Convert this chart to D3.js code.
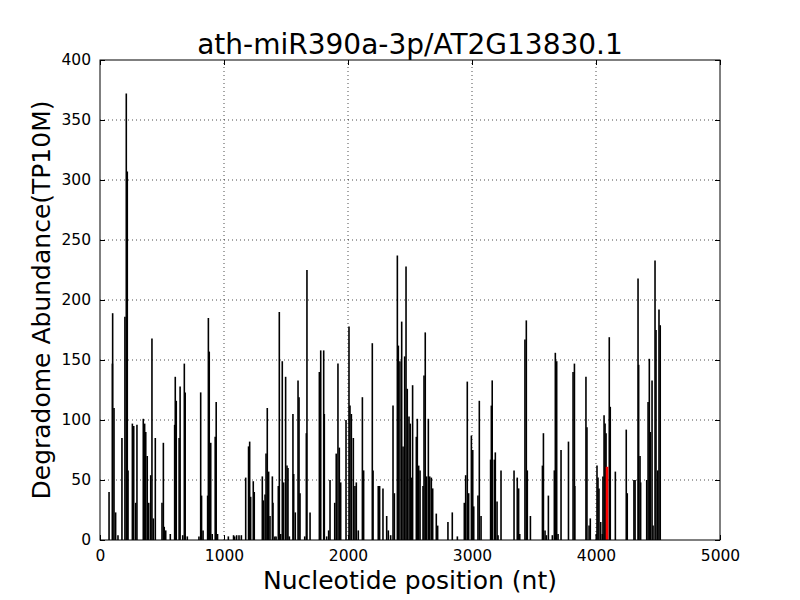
<!DOCTYPE html>
<html>
<head>
<meta charset="utf-8">
<script src="https://cdn.jsdelivr.net/npm/d3@7"></script>
<style>
  body { margin: 0; background: #fff; }
  text { font-family: "DejaVu Sans", sans-serif; fill: #000; }
</style>
</head>
<body>
<svg id="chart" width="800" height="600"></svg>
<script>
const title = "ath-miR390a-3p/AT2G13830.1";
const xLabel = "Nucleotide position (nt)";
const yLabel = "Degradome Abundance(TP10M)";
const xTicks = [0, 1000, 2000, 3000, 4000, 5000];
const yTicks = [0, 50, 100, 150, 200, 250, 300, 350, 400];

// Positions (nt) and abundances (TP10M) of degradome reads
const positions = [73,100,102,113,126,145,177,201,212,220,226,261,272,288,298,349,360,369,381,393,409,419,430,446,500,511,518,530,567,602,607,615,638,646,667,680,687,704,798,812,819,831,868,874,881,893,905,929,937,948,1035,1077,1086,1102,1121,1140,1175,1198,1207,1215,1236,1244,1309,1317,1331,1339,1349,1360,1371,1390,1395,1410,1420,1438,1446,1457,1470,1481,1497,1508,1516,1527,1556,1562,1575,1597,1605,1613,1651,1664,1669,1694,1769,1780,1804,1809,1828,1844,1855,1893,1905,1919,1930,1941,1984,2008,2016,2027,2043,2056,2067,2083,2116,2126,2196,2202,2244,2255,2282,2312,2325,2344,2363,2374,2398,2406,2419,2433,2444,2457,2468,2478,2492,2502,2512,2521,2551,2559,2570,2581,2605,2613,2623,2634,2648,2659,2672,2683,2712,2723,2806,2841,2882,2938,2949,2962,2973,2995,3006,3014,3048,3059,3073,3150,3156,3163,3180,3188,3202,3210,3234,3339,3365,3376,3385,3427,3438,3446,3471,3568,3576,3589,3600,3616,3648,3664,3672,3683,3694,3718,3778,3815,3826,3829,3919,3927,3944,3954,4002,4008,4016,4024,4038,4051,4056,4065,4073,4081,4107,4115,4156,4244,4252,4306,4315,4339,4344,4355,4360,4409,4420,4430,4438,4452,4460,4476,4484,4498,4508,4518];
const abundances = [40,147,189,110,23,4,85,186,372,307,58,97,95,31,96,101,97,90,70,31,54,168,18,85,31,81,11,8,5,96,136,116,85,128,4,147,123,3,3,123,37,8,37,185,157,81,5,86,115,5,3,4,3,4,4,4,52,78,82,36,49,40,53,33,38,72,110,57,20,53,31,3,3,45,190,5,149,48,136,62,60,3,105,55,23,133,119,39,3,89,225,23,140,158,158,105,3,8,50,31,72,147,77,48,100,178,112,105,85,45,48,8,119,58,164,58,45,45,43,20,8,4,112,39,237,162,149,182,78,153,228,126,103,97,52,129,86,101,62,58,45,137,173,53,101,53,52,43,22,12,15,23,3,31,54,132,39,87,75,28,37,116,20,67,112,133,67,73,32,4,58,58,52,43,5,167,183,58,20,62,89,8,4,37,4,58,156,149,5,75,82,140,147,45,136,94,12,18,5,62,52,43,15,5,53,104,97,89,169,111,57,92,39,50,50,218,146,70,48,50,115,151,90,133,12,233,175,58,192,179];

// Cleavage site (highlighted in red)
const sitePositions = [4089];
const siteAbundances = [61];

const svg = d3.select("#chart");
const margin = { left: 100, right: 80, top: 60, bottom: 60 };
const W = 800, H = 600;
const x = d3.scaleLinear().domain([0, 5000]).range([margin.left, W - margin.right]);
const y = d3.scaleLinear().domain([0, 400]).range([H - margin.bottom, margin.top]);

// grid
const grid = svg.append("g");
grid.selectAll("line.gx").data(xTicks.slice(1, -1)).join("line")
  .attr("x1", d => x(d)).attr("x2", d => x(d))
  .attr("y1", y(0)).attr("y2", y(400))
  .attr("stroke", "#000").attr("stroke-width", 0.7).attr("stroke-dasharray", "1,3");
grid.selectAll("line.gy").data(yTicks.slice(1, -1)).join("line")
  .attr("x1", x(0)).attr("x2", x(5000))
  .attr("y1", d => y(d)).attr("y2", d => y(d))
  .attr("stroke", "#000").attr("stroke-width", 0.7).attr("stroke-dasharray", "1,3");

// black stems
const data = positions.map((p, i) => ({ p, v: abundances[i] }));
svg.append("g").selectAll("line").data(data).join("line")
  .attr("x1", d => x(d.p)).attr("x2", d => x(d.p))
  .attr("y1", y(0)).attr("y2", d => y(d.v))
  .attr("stroke", "#000").attr("stroke-width", 1.6);

// red site
const site = sitePositions.map((p, i) => ({ p, v: siteAbundances[i] }));
svg.append("g").selectAll("line").data(site).join("line")
  .attr("x1", d => x(d.p)).attr("x2", d => x(d.p))
  .attr("y1", y(0)).attr("y2", d => y(d.v))
  .attr("stroke", "#ff0000").attr("stroke-width", 2.6);

// axes (ticks inward, both sides)
const fmt = d3.format("d");
const axB = d3.axisBottom(x).tickValues(xTicks).tickSizeInner(-5).tickSizeOuter(0).tickPadding(10).tickFormat(fmt);
const axT = d3.axisTop(x).tickValues(xTicks).tickSizeInner(-5).tickSizeOuter(0).tickFormat("");
const axL = d3.axisLeft(y).tickValues(yTicks).tickSizeInner(-5).tickSizeOuter(0).tickPadding(9).tickFormat(fmt);
const axR = d3.axisRight(y).tickValues(yTicks).tickSizeInner(-5).tickSizeOuter(0).tickFormat("");

function styleAxis(g) {
  g.select(".domain").remove();
  g.selectAll(".tick line").attr("stroke", "#000");
  g.selectAll("text").style("font-family", "DejaVu Sans").style("font-size", "15.5px").attr("fill", "#000");
}
svg.append("g").attr("transform", `translate(0,${y(0)})`).call(axB).call(styleAxis);
svg.append("g").attr("transform", `translate(0,${y(400)})`).call(axT).call(styleAxis);
svg.append("g").attr("transform", `translate(${x(0)},0)`).call(axL).call(styleAxis);
svg.append("g").attr("transform", `translate(${x(5000)},0)`).call(axR).call(styleAxis);

// frame
svg.append("rect").attr("x", x(0)).attr("y", y(400))
  .attr("width", x(5000) - x(0)).attr("height", y(0) - y(400))
  .attr("fill", "none").attr("stroke", "#000").attr("stroke-width", 1);

// labels
svg.append("text").attr("x", (x(0) + x(5000)) / 2).attr("y", 54)
  .attr("text-anchor", "middle").style("font-size", "28px").text(title);
svg.append("text").attr("x", (x(0) + x(5000)) / 2).attr("y", 589)
  .attr("text-anchor", "middle").style("font-size", "25px").text(xLabel);
svg.append("text").attr("transform", `translate(50,${(y(0) + y(400)) / 2}) rotate(-90)`)
  .attr("text-anchor", "middle").style("font-size", "25px").text(yLabel);
</script>
</body>
</html>
